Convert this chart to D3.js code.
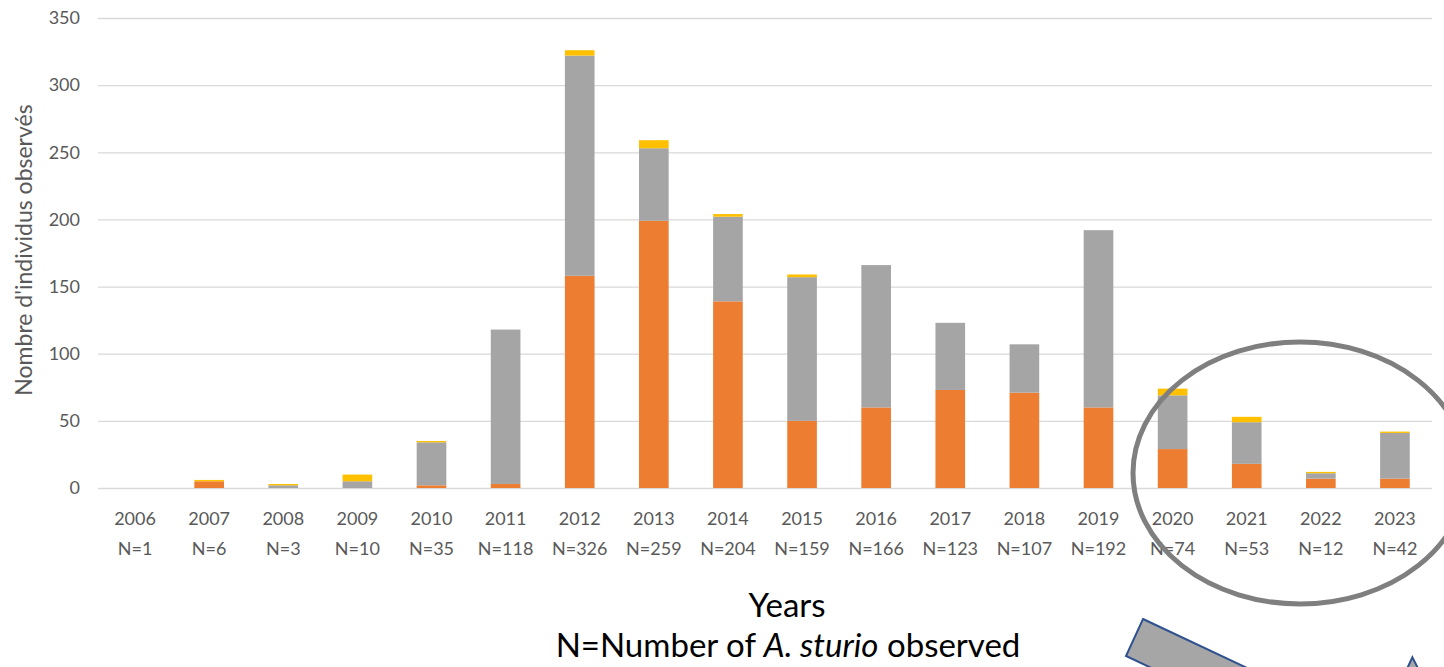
<!DOCTYPE html>
<html>
<head>
<meta charset="utf-8">
<script src="https://cdn.jsdelivr.net/npm/d3@7"></script>
<style>
  html, body { margin: 0; padding: 0; background: #fff; }
  svg { display: block; }
</style>
</head>
<body>
<svg id="chart" width="1444" height="667"></svg>
<script>
// Observation years and totals shown under each bar
const years = ["2006","2007","2008","2009","2010","2011","2012","2013","2014","2015","2016","2017","2018","2019","2020","2021","2022","2023"];
const totals = [1, 6, 3, 10, 35, 118, 326, 259, 204, 159, 166, 123, 107, 192, 74, 53, 12, 42];

// Stacked series (bottom to top)
const orangeVals = [0, 5, 0, 0, 2, 3, 158, 199, 139, 50, 60, 73, 71, 60, 29, 18, 7, 7];
const greyVals   = [0, 0, 2, 5, 32, 115, 164, 54, 63, 107, 106, 50, 36, 132, 40, 31, 4, 34];
const yellowVals = [0, 1, 1, 5, 1, 0, 4, 6, 2, 2, 0, 0, 0, 0, 5, 4, 1, 1];

const yTicks = [0, 50, 100, 150, 200, 250, 300, 350];
const seriesKeys = ["orange", "grey", "yellow"];
const seriesColors = { orange: "#ED7D31", grey: "#A5A5A5", yellow: "#FFC000" };

const svg = d3.select("#chart");
const font = "Lato, 'Open Sans', sans-serif";

const x = d3.scaleBand().domain(years).range([98, 1432]).paddingInner(0.6).paddingOuter(0.3);
const y = d3.scaleLinear().domain([0, 350]).range([488, 18]);

// Horizontal gridlines with y tick labels
const yAxis = d3.axisLeft(y).tickValues(yTicks).tickSize(-(1432 - 98)).tickPadding(18);
const gy = svg.append("g").attr("transform", "translate(98,0)").call(yAxis);
gy.select(".domain").remove();
gy.selectAll(".tick line").attr("stroke", "#D9D9D9").attr("stroke-width", 1.3);
gy.selectAll(".tick text").attr("fill", "#595959").attr("font-family", font).attr("font-size", 18);

// Stacked bars
const table = years.map((yr, i) => ({ year: yr, orange: orangeVals[i], grey: greyVals[i], yellow: yellowVals[i] }));
const stacked = d3.stack().keys(seriesKeys)(table);
svg.append("g").selectAll("g").data(stacked).join("g")
  .attr("fill", d => seriesColors[d.key])
  .selectAll("rect").data(d => d).join("rect")
  .attr("x", d => x(d.data.year))
  .attr("width", x.bandwidth())
  .attr("y", d => y(d[1]))
  .attr("height", d => y(d[0]) - y(d[1]));

// Category labels: year and count
const xl = svg.append("g").attr("font-family", font).attr("font-size", 18).attr("fill", "#595959").attr("text-anchor", "middle");
xl.selectAll("text.yr").data(years).join("text").attr("class", "yr")
  .attr("x", d => x(d) + x.bandwidth() / 2).attr("y", 525).text(d => d);
xl.selectAll("text.n").data(totals).join("text").attr("class", "n")
  .attr("x", (d, i) => x(years[i]) + x.bandwidth() / 2).attr("y", 555).text(d => "N=" + d);

// Y axis title
svg.append("text")
  .attr("transform", "translate(32,250) rotate(-90)")
  .attr("text-anchor", "middle")
  .attr("font-family", font).attr("font-size", 23).attr("fill", "#595959")
  .text("Nombre d'individus observés");

// X axis title block
svg.append("text").attr("x", 787).attr("y", 617).attr("text-anchor", "middle")
  .attr("font-family", font).attr("font-size", 33).attr("fill", "#000").text("Years");
const t2 = svg.append("text").attr("x", 788).attr("y", 657).attr("text-anchor", "middle")
  .attr("font-family", font).attr("font-size", 33).attr("fill", "#000");
t2.append("tspan").text("N=Number of ");
t2.append("tspan").attr("font-style", "italic").text("A. sturio");
t2.append("tspan").text(" observed");

// Highlight ellipse around the recent years
svg.append("ellipse").attr("cx", 1300).attr("cy", 473).attr("rx", 167).attr("ry", 131)
  .attr("fill", "none").attr("stroke", "#7F7F7F").attr("stroke-width", 5);

// Block arrow pointing down-right
const A = [1143, 619], B = [1126, 656];
const dv = [0.905, 0.426], nv = [0.426, -0.905];
const pt = (p, s, n) => [p[0] + dv[0] * s + nv[0] * n, p[1] + dv[1] * s + nv[1] * n];
const arrowPts = [A, pt(A, 260, 0), pt(A, 260, 80), pt(A, 390, -20), pt(A, 260, -121), pt(B, 260, 0), B];
svg.append("path").attr("d", d3.line()(arrowPts) + "Z")
  .attr("fill", "#A6A6A6").attr("stroke", "#2F528F").attr("stroke-width", 2).attr("stroke-linejoin", "miter");
</script>
</body>
</html>
